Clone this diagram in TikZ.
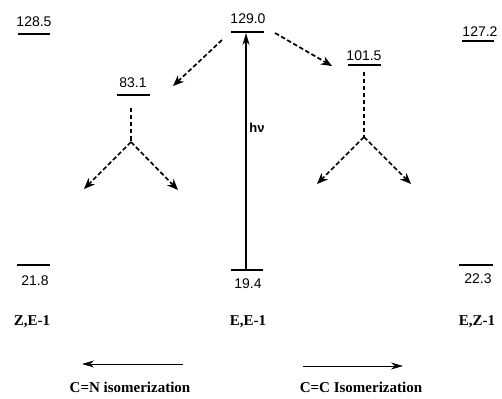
\documentclass[tikz,border=0pt]{standalone}
\usepackage{fontspec}
\setmainfont{Liberation Serif}
\newfontfamily\numfont{Liberation Sans}
\usetikzlibrary{arrows.meta}
\begin{document}
\begin{tikzpicture}[x=1pt,y=-1pt,
  num/.style={font=\numfont\fontsize{14}{16}\selectfont, inner sep=0pt},
  lab/.style={font=\bfseries\fontsize{15}{17}\selectfont, inner sep=0pt},
  lvl/.style={line width=1.2pt},
  dasharr/.style={dash pattern=on 4.5pt off 2.5pt, line width=1.7pt, -{Stealth[length=11pt,width=9pt]}},
  dashln/.style={dash pattern=on 4.5pt off 2.5pt, line width=1.7pt},
  solarr/.style={line width=1pt, -{Stealth[length=12pt,width=7pt]}}]
\useasboundingbox (0,0) rectangle (502,398);
% energy levels
\node[num] (n1285) at (34,22) {128.5};
\draw[lvl] (18,34) -- (50,34);
\node[num] (n1290) at (248,19) {129.0};
\draw[lvl] (231,32) -- (264,32);
\node[num] (n831) at (133,83) {83.1};
\draw[lvl] (117,95) -- (150,95);
\node[num] (n1015) at (364,56) {101.5};
\draw[lvl] (348,65) -- (381,65);
\node[num] (n1272) at (480,32) {127.2};
\draw[lvl] (462,41) -- (494,41);
\node[num] (n218) at (35,281) {21.8};
\draw[lvl] (17,265) -- (50,265);
\node[num] (n194) at (248,284) {19.4};
\draw[lvl] (231,270) -- (263,270);
\node[num] (n223) at (478,279) {22.3};
\draw[lvl] (459,265) -- (493,265);
% excitation
\coordinate (exbot) at (246,269);
\coordinate (extop) at (246,33);
\draw[solarr, line width=1.3pt] (exbot) -- (extop);
\node[num, font=\numfont\bfseries\fontsize{13}{15}\selectfont] (hv) at (257,128) {hν};
% dashed paths
\coordinate (a1s) at (222,40);
\coordinate (a1e) at (173,86);
\draw[dasharr] (a1s) -- (a1e);
\coordinate (a2s) at (275,33);
\coordinate (a2e) at (332,66);
\draw[dasharr] (a2s) -- (a2e);
\coordinate (b1t) at (131,108);
\coordinate (b1m) at (131,142);
\coordinate (b1l) at (84,189);
\coordinate (b1r) at (178,190);
\draw[dashln] (b1t) -- (b1m);
\draw[dasharr] (b1m) -- (b1l);
\draw[dasharr] (b1m) -- (b1r);
\coordinate (b2t) at (364,72);
\coordinate (b2m) at (364,137);
\coordinate (b2l) at (317,184);
\coordinate (b2r) at (411,184);
\draw[dashln] (b2t) -- (b2m);
\draw[dasharr] (b2m) -- (b2l);
\draw[dasharr] (b2m) -- (b2r);
% species labels
\node[lab] (zE) at (32,322) {Z,E-1};
\node[lab] (EE) at (248,322) {E,E-1};
\node[lab] (EZ) at (477,322) {E,Z-1};
% isomerization arrows
\coordinate (l1) at (183,364);
\coordinate (l2) at (82,364);
\draw[solarr] (l1) -- (l2);
\coordinate (r1) at (303,366);
\coordinate (r2) at (403,366);
\draw[solarr] (r1) -- (r2);
\node[lab] (cn) at (130,387) {C=N isomerization};
\node[lab] (cc) at (361,387) {C=C Isomerization};
\end{tikzpicture}
\end{document}
